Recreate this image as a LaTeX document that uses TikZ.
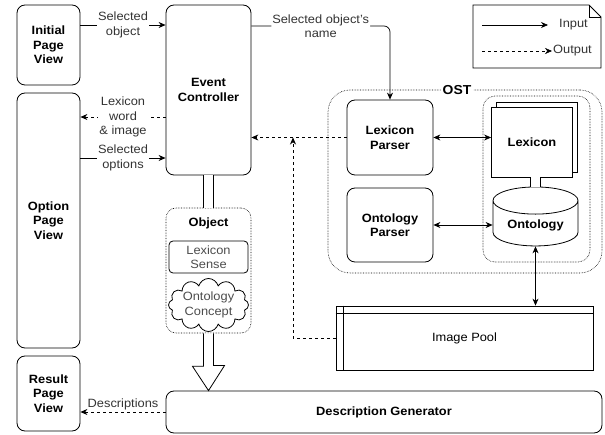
\documentclass[tikz,border=0pt]{standalone}
\usepackage{fontspec}
\setmainfont[FakeStretch=1.07]{Liberation Sans}
\usetikzlibrary{positioning,shapes.geometric,shapes.symbols,arrows.meta}

\begin{document}
\begin{tikzpicture}[
    x=1pt, y=-1pt,
    font=\fontsize{12}{14.5}\selectfont,
    box/.style={%
      draw,
      rounded corners=8pt,
      line width=0.8pt,
      align=center,
      font=\fontsize{12}{14.5}\selectfont\bfseries,
    },
    group/.style={%
      draw,
      densely dotted,
      line width=0.6pt,
    },
    lbl/.style={%
      fill=white,
      align=center,
      inner sep=1pt,
      text=black!80,
    },
    inarrow/.style={-{Stealth[length=7pt,width=6pt]}, line width=0.7pt},
    outarrow/.style={inarrow, dashed},
    bothways/.style={{Stealth[length=7pt,width=6pt]}-{Stealth[length=7pt,width=6pt]}, line width=0.7pt},
  ]
  \useasboundingbox (0,0) rectangle (605,435);

    % views
    \node [box, minimum width=63, minimum height=80] (init) at (48.5,45) {Initial\\Page\\View};
    \node [box, minimum width=63, minimum height=255] (opt) at (48.5,220.5) {Option\\Page\\View};
    \node [box, minimum width=63, minimum height=75] (res) at (48.5,393.5) {Result\\Page\\View};

    % controller and object
    \node [box, minimum width=85, minimum height=170] (ec) at (208.5,90) {Event\\Controller};
    \node [group, rounded corners=10pt, minimum width=85, minimum height=125] (obj) at (208.5,270.5) {};
    \node [box, draw=none] (objlbl) at (208.5,223) {Object};
    \node [draw, rounded corners=4pt, line width=0.8pt, minimum width=79, minimum height=32, align=center, text=black!70] (sense) at (208.5,257) {Lexicon\\Sense};
    \node [draw, cloud, cloud puffs=12, cloud ignores aspect, line width=0.8pt, minimum width=80, minimum height=53, inner sep=0pt, align=center, text=black!70] (concept) at (208.5,305) {Ontology\\Concept};
    \node [box, minimum width=436, minimum height=42] (dg) at (384,412) {Description Generator};

    % OST
    \node [group, rounded corners=22pt, minimum width=274, minimum height=183] (ost) at (465,181.5) {};
    \node [box, draw=none, fill=white, inner sep=2pt, font=\fontsize{13}{15}\selectfont\bfseries] (ostlbl) at (457,90) {OST};
    \node [box, minimum width=86, minimum height=75] (lp) at (390,137.5) {Lexicon\\Parser};
    \node [box, minimum width=86, minimum height=74] (op) at (390,225) {Ontology\\Parser};
    \node [group, rounded corners=12pt, minimum width=107, minimum height=166] (store) at (536.5,179) {};
    \node [draw, line width=0.8pt, fill=white, minimum width=81, minimum height=70] (lexb) at (537,137) {};
    \node [box, rounded corners=0pt, fill=white, minimum width=81, minimum height=70] (lex) at (532,142) {Lexicon};
    \node [box, rounded corners=0pt, cylinder, shape border rotate=90, aspect=0.45, minimum width=85, minimum height=59, inner sep=2pt] (ont) at (535.5,225.5) {Ontology};

    % image pool
    \node [draw, line width=0.8pt, minimum width=257, minimum height=64] (ip) at (464.5,338) {Image Pool};
    \draw [line width=0.8pt] ([xshift=8pt]ip.north west) -- ([xshift=8pt]ip.south west);
    \draw [line width=0.8pt] ([yshift=-8pt]ip.north west) -- ([yshift=-8pt]ip.north east);

    % legend
    \draw [line width=0.8pt] (473,5) -- (589,5) -- (601,17) -- (601,68) -- (473,68) -- cycle;
    \draw [thin] (589,5) -- (589,17) -- (601,17);
    \node [anchor=west, inner sep=1pt, text=black!80] (inkey) at (558,25) {Input};
    \node [anchor=west, inner sep=1pt, text=black!80] (outkey) at (552,51) {Output};
    \coordinate (inkeystart) at (482,25);
    \coordinate (outkeystart) at (482,51);
    \draw [inarrow, shorten >=10pt] (inkeystart) -- (inkey);
    \draw [outarrow, thin] (outkeystart) -- (outkey);

    % connectors
    \draw [inarrow] ([yshift=20pt]init.east) -- node [lbl] {Selected\\object} ([yshift=20pt]init.east -| ec.west);
    \draw [outarrow] ([yshift=-27pt]ec.west) -- node [lbl] {Lexicon\\word\\\& image} ([yshift=-27pt]ec.west -| opt.east);
    \draw [inarrow] ([yshift=-68pt]ec.west -| opt.east) -- node [lbl] {Selected\\options} ([yshift=-68pt]ec.west);
    \draw [inarrow, rounded corners=6pt] ([yshift=64pt]ec.east) -- node [lbl] {Selected object's\\name} ([yshift=64pt]ec.east -| lp.north) -- (lp.north);
    \draw [outarrow] (lp.west) -- (lp.west -| ec.east);
    \coordinate (merge) at (293,137.5);
    \draw [outarrow] (ip.west) -| (merge);
    \draw [bothways] (lp.east) -- (lp.east -| lex.west);
    \draw [bothways] (op.east) -- (op.east -| ont.west);
    \draw [bothways] (ont.south) -- (ont.south |- ip.north);
    \draw [double, double distance=9pt, line width=0.8pt] (ont.north |- lex.south) -- (ont.north);
    \draw [double, double distance=9pt, line width=0.8pt] (ec.south) -- (obj.north);
    \draw [line width=0.8pt, fill=white] ([xshift=-5pt]obj.south) -- ++(0,33) -- ++(-11,0) -- (obj.south |- dg.north) -- ++(16,-25) -- ++(-11,0) -- ([xshift=5pt]obj.south);
    \draw [outarrow] (dg.west) -- node [lbl, above=1pt, fill=none] {Descriptions} (dg.west -| res.east);

\end{tikzpicture}
\end{document}
